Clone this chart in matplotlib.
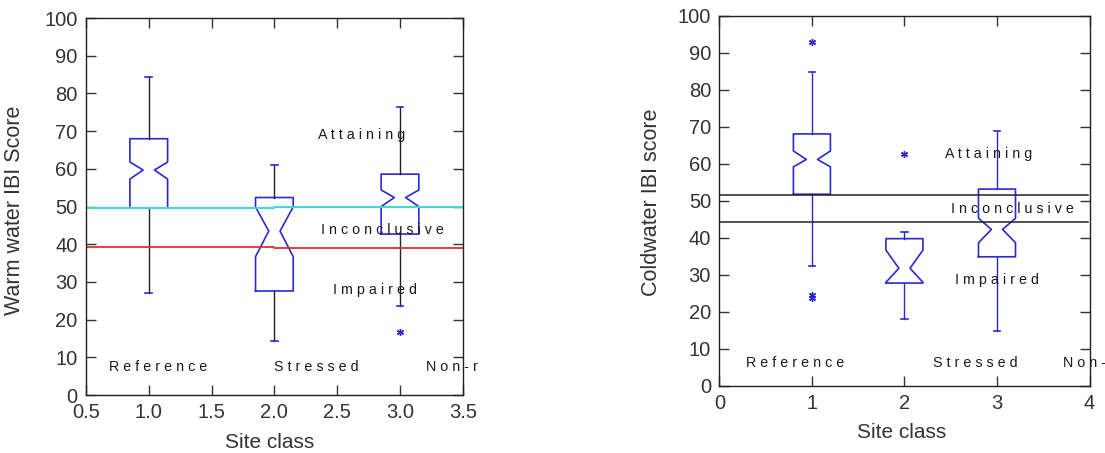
import matplotlib.pyplot as plt

plt.rcParams['font.family'] = ['Liberation Sans', 'DejaVu Sans']

# Warm water panel: per site class
warm_pos = [1, 2, 3]
warm_whislo = [27.2, 14.2, 23.5]
warm_q1 = [49.6, 27.6, 42.7]
warm_cilo = [57.3, 36.7, 50.0]
warm_med = [59.7, 43.5, 52.4]
warm_cihi = [61.8, 49.9, 54.4]
warm_q3 = [68.0, 52.4, 58.6]
warm_whishi = [84.3, 60.9, 76.5]
warm_fliers_x = [3]
warm_fliers_y = [16.6]
warm_upper_x = [0.5, 2.0, 2.0, 3.5]
warm_upper_y = [49.6, 49.6, 50.0, 50.0]
warm_lower_x = [0.5, 2.0, 2.0, 3.5]
warm_lower_y = [39.4, 39.4, 39.0, 39.0]

# Coldwater panel
cold_pos = [1, 2, 3]
cold_whislo = [32.5, 18.0, 14.9]
cold_q1 = [51.8, 27.8, 34.9]
cold_cilo = [59.2, 28.0, 38.7]
cold_med = [61.2, 31.8, 42.3]
cold_cihi = [63.5, 36.7, 45.3]
cold_q3 = [68.1, 39.8, 53.2]
cold_whishi = [84.8, 41.5, 68.8]
cold_fliers_x = [1, 1, 1, 2]
cold_fliers_y = [93.0, 24.7, 23.9, 62.6]
cold_lines = [51.6, 44.4]

class_names = ["R e f e r e n c e", "S t r e s s e d"]

BLUE = '#2a2ad0'


def draw_box(ax, x, lo, q1, cilo, med, cihi, q3, hi, hw, wcol):
    nw = hw * 0.3
    xs = [x - hw, x - hw, x - nw, x - hw, x - hw, x + hw, x + hw, x + nw, x + hw, x + hw, x - hw]
    ys = [q1, cilo, med, cihi, q3, q3, cihi, med, cilo, q1, q1]
    ax.plot(xs, ys, color=BLUE, lw=1.2)
    ax.plot([x, x], [q3, hi], color=wcol, lw=1.0)
    ax.plot([x, x], [lo, q1], color=wcol, lw=1.0)
    cw = 0.027 if hw < 0.18 else 0.035
    ax.plot([x - cw, x + cw], [hi, hi], color=BLUE, lw=1.2)
    ax.plot([x - cw, x + cw], [lo, lo], color=BLUE, lw=1.2)


def style(ax):
    ax.tick_params(direction='in', top=True, right=True, length=7, width=1,
                   labelsize=14.5, labelcolor='#333333', color='#333333', pad=6)
    for s in ax.spines.values():
        s.set_linewidth(1.0)
        s.set_color('#222222')


fig = plt.figure(figsize=(11.05, 4.53), dpi=100)
ax1 = fig.add_axes([0.0778, 0.128, 0.341, 0.832])
ax2 = fig.add_axes([0.651, 0.148, 0.335, 0.817])

# left panel
for i in range(3):
    draw_box(ax1, warm_pos[i], warm_whislo[i], warm_q1[i], warm_cilo[i], warm_med[i],
             warm_cihi[i], warm_q3[i], warm_whishi[i], 0.15, '#222222')
ax1.plot(warm_fliers_x, warm_fliers_y, linestyle='none', marker=(6, 2, 0),
         markersize=5, color=BLUE, markeredgewidth=1.0)
ax1.plot(warm_upper_x, warm_upper_y, color='#40d8d8', lw=1.5)
ax1.plot(warm_lower_x, warm_lower_y, color='#e03030', lw=1.3)
ax1.set_xlim(0.5, 3.5)
ax1.set_ylim(0, 100)
ax1.set_xticks([0.5, 1.0, 1.5, 2.0, 2.5, 3.0, 3.5])
ax1.set_xticklabels(['0.5', '1.0', '1.5', '2.0', '2.5', '3.0', '3.5'])
ax1.set_yticks(range(0, 101, 10))
style(ax1)
tk = dict(fontsize=10.3, color='#1a1a1a', va='center', ha='left')
ax1.text(2.35, 69, "A t t a i n i n g", **tk)
ax1.text(2.37, 43.8, "I n c o n c l u s i v e", **tk)
ax1.text(2.47, 27.9, "I m p a i r e d", **tk)
ax1.text(0.68, 7.5, class_names[0], **tk)
ax1.text(2.0, 7.5, class_names[1], **tk)
ax1.text(3.21, 7.5, "N o n - r", clip_on=False, **tk)
ax1.set_xlabel("Site class", fontsize=15, color='#333333')
ax1.set_ylabel("Warm water IBI Score", fontsize=15.5, color='#333333')
ax1.xaxis.set_label_coords(0.488, -0.10)
ax1.yaxis.set_label_coords(-0.162, 0.49)

# right panel
for i in range(3):
    draw_box(ax2, cold_pos[i], cold_whislo[i], cold_q1[i], cold_cilo[i], cold_med[i],
             cold_cihi[i], cold_q3[i], cold_whishi[i], 0.2, BLUE)
ax2.plot(cold_fliers_x, cold_fliers_y, linestyle='none', marker=(6, 2, 0),
         markersize=5, color=BLUE, markeredgewidth=1.0)
for yv in cold_lines:
    ax2.plot([0, 3.98], [yv, yv], color='#222222', lw=1.1)
ax2.set_xlim(0, 4)
ax2.set_ylim(0, 100)
ax2.set_xticks([0, 1, 2, 3, 4])
ax2.set_yticks(range(0, 101, 10))
style(ax2)
ax2.text(2.44, 62.8, "A t t a i n i n g", **tk)
ax2.text(2.50, 47.8, "I n c o n c l u s i v e", **tk)
ax2.text(2.55, 28.6, "I m p a i r e d", **tk)
ax2.text(0.285, 6.1, class_names[0], **tk)
ax2.text(2.31, 6.1, class_names[1], **tk)
ax2.text(3.71, 6.1, "N o n -", clip_on=False, **tk)
ax2.set_xlabel("Site class", fontsize=15, color='#333333')
ax2.set_ylabel("Coldwater IBI score", fontsize=15.5, color='#333333')
ax2.xaxis.set_label_coords(0.492, -0.10)
ax2.yaxis.set_label_coords(-0.154, 0.496)

fig.savefig("out.png", dpi=100)
